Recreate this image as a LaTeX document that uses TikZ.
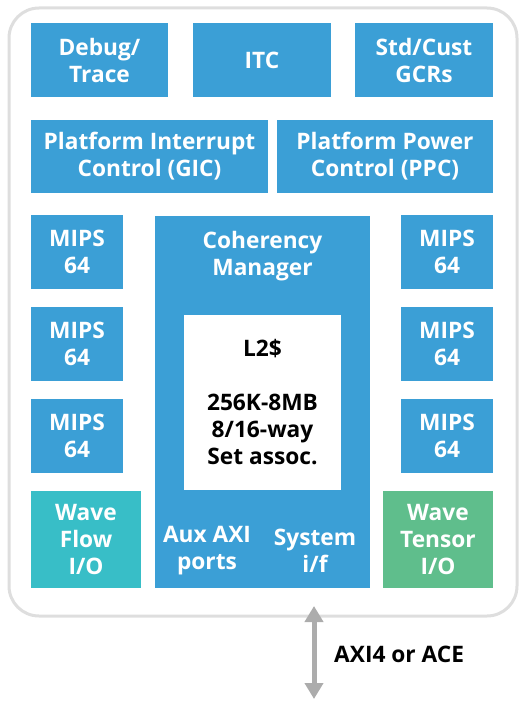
\documentclass[tikz,border=0pt]{standalone}
\usepackage{fontspec}
\setmainfont{Open Sans}
\usetikzlibrary{arrows.meta}
\definecolor{cblue}{RGB}{59,159,214}
\definecolor{cteal}{RGB}{56,190,199}
\definecolor{cgreen}{RGB}{95,190,140}
\definecolor{agray}{RGB}{172,172,172}
\definecolor{shadowgray}{RGB}{222,222,222}
\newcommand{\dgfont}{\fontsize{22.7}{27}\selectfont\bfseries}
\tikzset{
  blk/.style={fill=cblue, draw=none, text=white, align=center, inner sep=0pt,
    font=\dgfont},
  lbl/.style={text=white, align=center, inner sep=0pt, font=\dgfont},
  cachebox/.style={fill=white, draw=none, text=black, align=center, inner sep=0pt,
    font=\dgfont},
  mips/.style={blk, minimum width=92pt, minimum height=74pt},
  frame/.style={fill=white, draw=shadowgray, line width=3pt, rounded corners=30pt},
}
\begin{document}
\begin{tikzpicture}[x=1pt,y=-1pt]
\useasboundingbox (0,0) rectangle (525,701);
% outer frame
\node[frame, minimum width=508pt, minimum height=608pt] (outer) at (263,312) {};
% top row
\node[blk, minimum width=137pt, minimum height=74pt] (debug) at (99.5,60) {Debug/\\Trace};
\node[blk, minimum width=138pt, minimum height=74pt] (itc) at (262,60) {ITC};
\node[blk, minimum width=138pt, minimum height=74pt] (gcr) at (424,60) {Std/Cust\\GCRs};
% second row
\node[blk, minimum width=237pt, minimum height=73pt] (pic) at (149.5,156.5) {Platform Interrupt\\Control (GIC)};
\node[blk, minimum width=216pt, minimum height=73pt] (ppc) at (385,156.5) {Platform Power\\Control (PPC)};
% left cores
\node[mips] (ml1) at (77,252) {MIPS\\64};
\node[mips] (ml2) at (77,344) {MIPS\\64};
\node[mips] (ml3) at (77,436) {MIPS\\64};
\node[blk, fill=cteal, minimum width=110pt, minimum height=97pt] (wflow) at (86,539.5) {Wave\\Flow\\I/O};
% right cores
\node[mips] (mr1) at (447,252) {MIPS\\64};
\node[mips] (mr2) at (447,344) {MIPS\\64};
\node[mips] (mr3) at (447,436) {MIPS\\64};
\node[blk, fill=cgreen, minimum width=110pt, minimum height=97pt] (wtensor) at (438,539.5) {Wave\\Tensor\\I/O};
% coherency manager
\node[blk, minimum width=215pt, minimum height=372pt] (cm) at (262.5,402) {};
\node[lbl] (cmlabel) at (262.5,256) {Coherency\\Manager};
\node[cachebox, minimum width=157pt, minimum height=175pt] (l2) at (262.5,402.5) {L2\$\\[27pt]256K-8MB\\8/16-way\\Set assoc.};
\node[lbl] (aux) at (207,551) {Aux AXI\\ports};
\node[lbl] (sysif) at (315,550.5) {System\\i/f};
% bus arrow
\coordinate (bustop) at (314,606);
\coordinate (busbot) at (314,699);
\draw[agray, line width=5pt, {Triangle[width=18pt,length=16pt]}-{Triangle[width=18pt,length=16pt]}] (bustop) -- (busbot);
\node[anchor=west, inner sep=0pt, text=black, font=\dgfont] (bus) at (334,654) {AXI4 or ACE};
\end{tikzpicture}
\end{document}
